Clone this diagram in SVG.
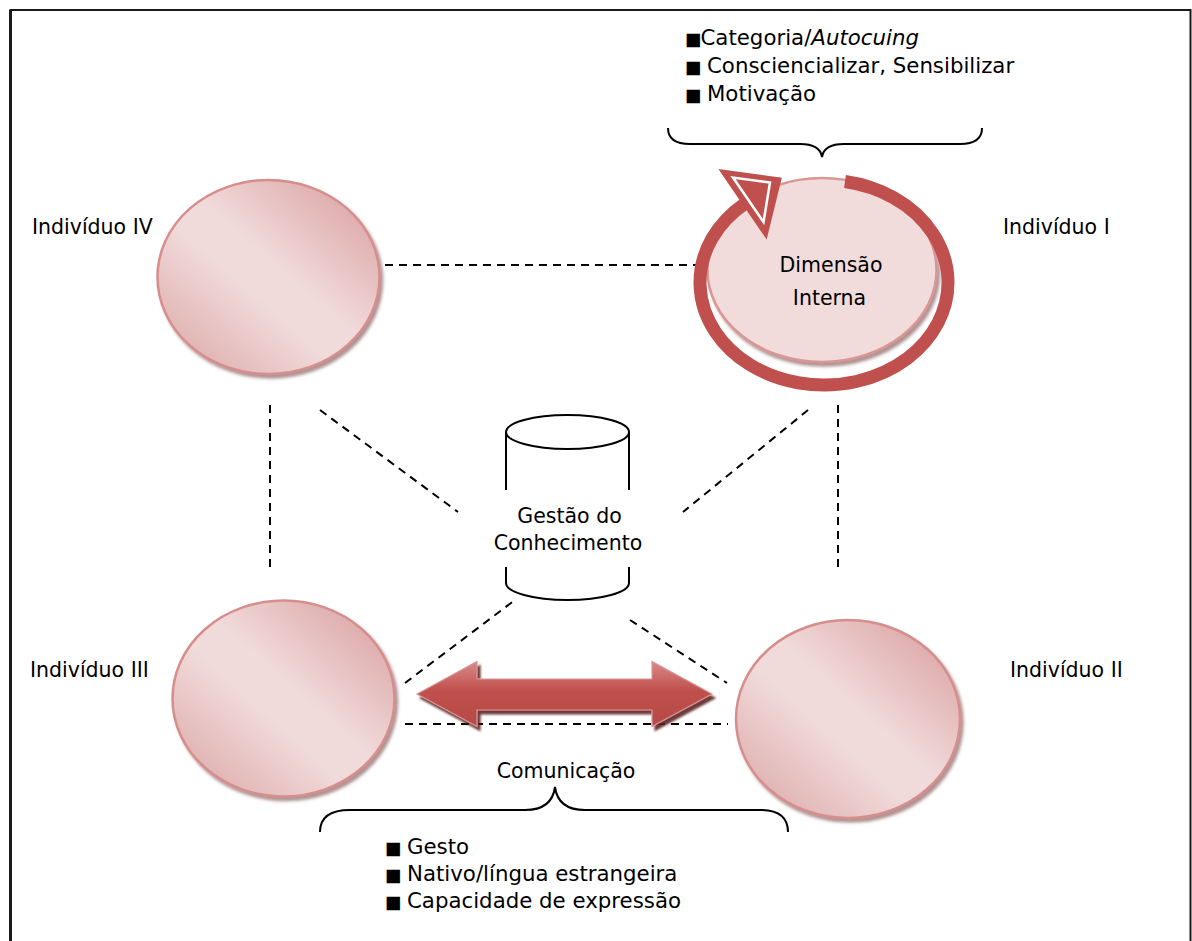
<svg xmlns="http://www.w3.org/2000/svg" width="1192" height="941" viewBox="0 0 1192 941">
  <style>
    .t { font-family: "DejaVu Sans", "Liberation Sans", sans-serif; font-size: 20.5px; fill: #000; }
    .l { font-family: "DejaVu Sans", "Liberation Sans", sans-serif; font-size: 21.3px; fill: #000; }
    .b { font-size: 17.5px; }
    .dash { fill: none; stroke: #000; stroke-width: 2; stroke-dasharray: 8 6; }
    .brace { fill: none; stroke: #000; stroke-width: 2; }
    .person { fill: url(#personFill); stroke: #d68e8d; stroke-width: 2.5; filter: url(#shadow); }
    .cyl { fill: #fff; stroke: #000; stroke-width: 2; }
  </style>
  <defs>
    <linearGradient id="personFill" x1="1" y1="0" x2="0" y2="1">
      <stop offset="0" stop-color="#d7999a"/>
      <stop offset="0.45" stop-color="#f1dada"/>
      <stop offset="0.58" stop-color="#f1dada"/>
      <stop offset="1" stop-color="#d9a3a2"/>
    </linearGradient>
    <linearGradient id="arrowFill" x1="0" y1="0" x2="0" y2="1">
      <stop offset="0" stop-color="#d88a88"/>
      <stop offset="0.45" stop-color="#c0504d"/>
      <stop offset="1" stop-color="#b64a47"/>
    </linearGradient>
    <filter id="shadow" x="-10%" y="-10%" width="125%" height="125%">
      <feDropShadow dx="2.5" dy="3.5" stdDeviation="1.5" flood-color="#7a4a49" flood-opacity="0.6"/>
    </filter>
    <filter id="arrowShadow" x="-10%" y="-20%" width="125%" height="150%">
      <feDropShadow dx="3" dy="4" stdDeviation="0.8" flood-color="#5e2321" flood-opacity="0.9"/>
    </filter>
  </defs>

  <!-- frame -->
  <g id="frame" fill="none" stroke="#1a1a1a">
    <path d="M10.5,941 V10 H1190.5 V941" stroke-width="2"/>
    <line x1="10.5" y1="10" x2="10.5" y2="941" stroke-width="3"/>
  </g>

  <!-- dashed connectors -->
  <g id="connectors" class="dash">
    <line x1="385" y1="265" x2="697" y2="265"/>
    <line x1="270" y1="405" x2="270" y2="568"/>
    <line x1="838" y1="405" x2="838" y2="572"/>
    <line x1="320" y1="410" x2="458" y2="512"/>
    <line x1="808" y1="410" x2="683" y2="512"/>
    <line x1="405" y1="683" x2="515" y2="600"/>
    <line x1="630" y1="620" x2="727" y2="683"/>
    <line x1="405" y1="724" x2="728" y2="724"/>
  </g>

  <!-- Individuo IV -->
  <g id="individuo-iv">
    <ellipse class="person" cx="268.5" cy="277" rx="111" ry="97"/>
    <text class="t" x="32" y="234">Indivíduo IV</text>
  </g>

  <!-- Individuo III -->
  <g id="individuo-iii">
    <ellipse class="person" cx="283.5" cy="698.5" rx="111" ry="98"/>
    <text class="t" x="30" y="677">Indivíduo III</text>
  </g>

  <!-- Individuo II -->
  <g id="individuo-ii">
    <ellipse class="person" cx="848" cy="719" rx="112" ry="99"/>
    <text class="t" x="1010" y="677">Indivíduo II</text>
  </g>

  <!-- Individuo I with the inner dimension cycle -->
  <g id="individuo-i">
    <ellipse cx="822" cy="270" rx="114.5" ry="92" fill="#f2dcdb" stroke="#d99694" stroke-width="2.5" filter="url(#shadow)"/>
    <path d="M845,181.5 A124,102.5 0 1 1 744.3,204" fill="none" stroke="#c0504d" stroke-width="13"/>
    <polygon points="780,179 721.5,171 766,236" fill="#c0504d" stroke="#c0504d" stroke-width="3" stroke-linejoin="miter"/>
    <polygon points="770,182.5 733,177.5 763.5,222" fill="none" stroke="#fff" stroke-width="2.5" stroke-linejoin="miter"/>
    <text class="t" x="831" y="272" text-anchor="middle">Dimensão</text>
    <text class="t" x="829.5" y="305" text-anchor="middle">Interna</text>
    <text class="t" x="1003" y="234">Indivíduo I</text>
  </g>

  <!-- knowledge store -->
  <g id="gestao">
    <path class="cyl" d="M506,432 V490 M629,432 V490"/>
    <ellipse class="cyl" cx="567.5" cy="432" rx="61.5" ry="17"/>
    <path class="cyl" d="M506,567 V583 A61.5,17 0 0 0 629,583 V567" fill="none"/>
    <text class="t" x="569.5" y="523" text-anchor="middle">Gestão do</text>
    <text class="t" x="568" y="550" text-anchor="middle">Conhecimento</text>
  </g>

  <!-- communication arrow -->
  <g id="comunicacao">
    <polygon points="417,694 477,661.5 477,679 652,679 652,661.5 712,694 652,726.5 652,710 477,710 477,726.5" fill="url(#arrowFill)" stroke="#d99694" stroke-width="1.2" filter="url(#arrowShadow)"/>
    <text class="t" x="566" y="778" text-anchor="middle">Comunicação</text>
  </g>

  <!-- top annotation -->
  <g id="nota-interna">
    <path class="brace" d="M668,128 Q668,144 690,144 L800,144 Q820,144 822,157 Q824,144 844,144 L960,144 Q982,144 982,128"/>
    <text class="l" x="685" y="45"><tspan class="b">■</tspan><tspan x="700.5">Categoria/</tspan><tspan font-style="italic">Autocuing</tspan></text>
    <text class="l" x="685" y="73"><tspan class="b">■ </tspan><tspan x="707">Consciencializar, Sensibilizar</tspan></text>
    <text class="l" x="685" y="101"><tspan class="b">■ </tspan><tspan x="707">Motivação</tspan></text>
  </g>

  <!-- bottom annotation -->
  <g id="nota-comunicacao">
    <path class="brace" d="M320,832 Q320,810 350,810 L525,810 Q552,810 555,787 Q558,810 585,810 L760,810 Q788,810 788,832"/>
    <text class="l" x="385" y="854"><tspan class="b">■ </tspan><tspan x="407">Gesto</tspan></text>
    <text class="l" x="385" y="881"><tspan class="b">■ </tspan><tspan x="407">Nativo/língua estrangeira</tspan></text>
    <text class="l" x="385" y="908"><tspan class="b">■ </tspan><tspan x="407">Capacidade de expressão</tspan></text>
  </g>
</svg>
